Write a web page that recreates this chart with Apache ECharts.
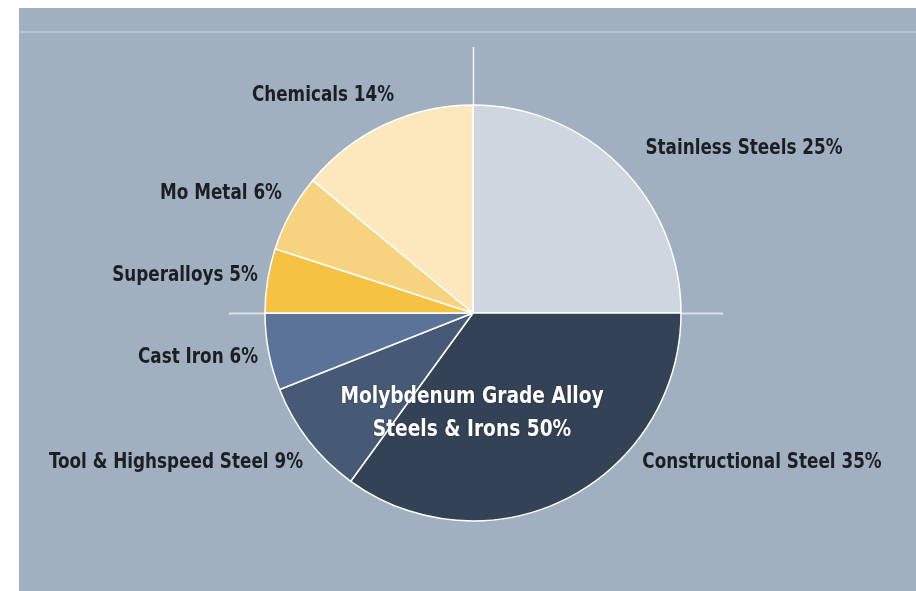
<!DOCTYPE html>
<html>
<head>
<meta charset="utf-8">
<script src="https://cdn.jsdelivr.net/npm/echarts@6/dist/echarts.min.js"></script>
<style>
html,body{margin:0;padding:0;background:#ffffff;}
#chart{width:916px;height:591px;}
</style>
</head>
<body>
<div id="chart"></div>
<script>
var categories = ['Stainless Steels', 'Constructional Steel', 'Tool & Highspeed Steel', 'Cast Iron', 'Superalloys', 'Mo Metal', 'Chemicals'];
var shares = [25, 35, 9, 6, 5, 6, 14];
var sliceColors = ['#cfd6e0', '#344256', '#475a75', '#5b7399', '#f5c242', '#f8d37f', '#fde7bd'];
var centerLines = ['Molybdenum Grade Alloy', 'Steels & Irons 50%'];

var labelAnchors = [
  [744, 148], [762, 462], [176, 462], [198, 357], [185, 275], [221, 193], [323, 95]
];

var fontFam = '"DejaVu Sans Condensed", "Liberation Sans Narrow", sans-serif';

var graphics = [
  { type: 'rect', z: -10, silent: true, shape: { x: 19, y: 8, width: 897, height: 583 }, style: { fill: '#a1b0c1' } },
  { type: 'line', z: -9, silent: true, shape: { x1: 19, y1: 32, x2: 916, y2: 32 }, style: { stroke: 'rgba(255,255,255,0.55)', lineWidth: 1 } },
  { type: 'line', z: -9, silent: true, shape: { x1: 473.5, y1: 47, x2: 473.5, y2: 313 }, style: { stroke: 'rgba(255,255,255,0.85)', lineWidth: 1.5 } },
  { type: 'line', z: -9, silent: true, shape: { x1: 229, y1: 313.5, x2: 723, y2: 313.5 }, style: { stroke: 'rgba(255,255,255,0.6)', lineWidth: 2 } },
  { type: 'text', z: 100, silent: true, x: 472, y: 414, scaleX: 0.9, style: {
      text: centerLines.join('\n'), fill: '#ffffff', font: 'bold 23px ' + fontFam,
      align: 'center', verticalAlign: 'middle', lineHeight: 33,
      textShadowColor: 'rgba(0,0,0,0.35)', textShadowBlur: 2 } }
];

categories.forEach(function (c, i) {
  graphics.push({
    type: 'text', z: 100, silent: true,
    x: labelAnchors[i][0], y: labelAnchors[i][1], scaleX: 0.85,
    style: {
      text: c + ' ' + shares[i] + '%',
      fill: '#1c1e22', font: 'bold 22px ' + fontFam,
      align: 'center', verticalAlign: 'middle'
    }
  });
});

var chart = echarts.init(document.getElementById('chart'));
chart.setOption({
  backgroundColor: '#ffffff',
  animation: false,
  graphic: graphics,
  series: [{
    type: 'pie',
    center: [473, 313],
    radius: 208,
    startAngle: 90,
    clockwise: true,
    silent: true,
    data: categories.map(function (c, i) {
      return { name: c, value: shares[i], itemStyle: { color: sliceColors[i] } };
    }),
    itemStyle: { borderColor: '#ffffff', borderWidth: 1.5 },
    labelLine: { show: false },
    label: { show: false }
  }]
});
</script>
</body>
</html>
